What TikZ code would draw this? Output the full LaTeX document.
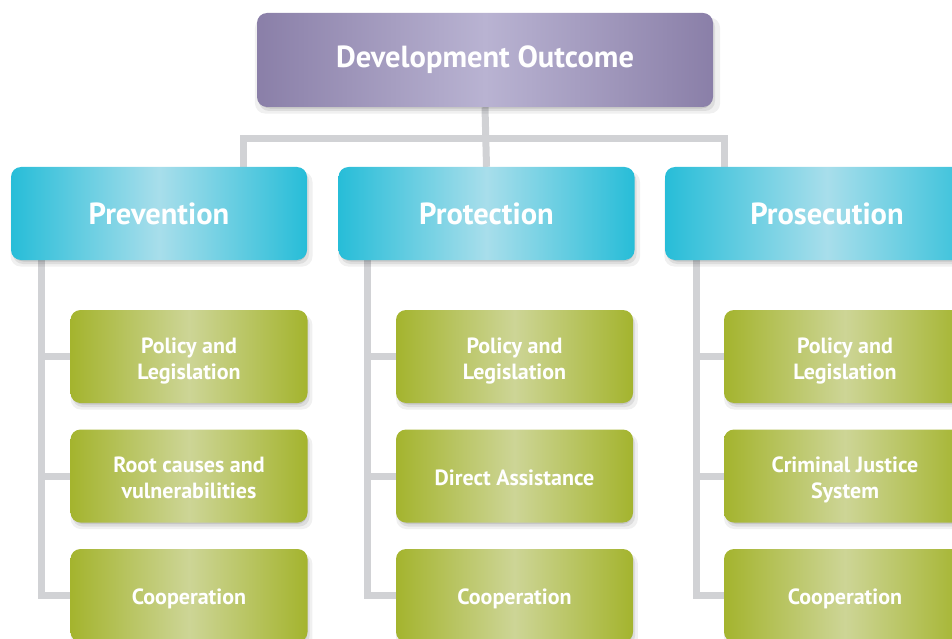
\documentclass[tikz,border=0pt]{standalone}
\usepackage{fontspec}
\setmainfont{PT Sans}
\usetikzlibrary{shadows,backgrounds}
\definecolor{purEdge}{HTML}{8A7FA8}
\definecolor{purMid}{HTML}{B9B3D2}
\definecolor{bluEdge}{HTML}{27BDD8}
\definecolor{bluMid}{HTML}{A8DEEB}
\definecolor{grnEdge}{HTML}{A4B42E}
\definecolor{grnMid}{HTML}{CDD596}
\definecolor{connGray}{HTML}{D1D2D5}
\tikzset{
  box/.style={rounded corners=10pt, inner sep=0pt, text=white, align=center,
    font=\bfseries,
    drop shadow={shadow xshift=2.5pt, shadow yshift=-5.5pt, shadow scale=1.02, opacity=0.06, fill=black},
    drop shadow={shadow xshift=2pt, shadow yshift=-4pt, shadow scale=1.0, opacity=0.08, fill=black},
    drop shadow={shadow xshift=1pt, shadow yshift=-2pt, shadow scale=0.99, opacity=0.10, fill=black}},
  topbox/.style={box, minimum width=456pt, minimum height=94pt,
    left color=purEdge, right color=purEdge, middle color=purMid, font=\bfseries\fontsize{30.5}{34}\selectfont},
  pillar/.style={box, minimum width=296pt, minimum height=93pt,
    left color=bluEdge, right color=bluEdge, middle color=bluMid, font=\bfseries\fontsize{30.5}{34}\selectfont},
  leaf/.style={box, minimum width=237pt, minimum height=93pt,
    left color=grnEdge, right color=grnEdge, middle color=grnMid, font=\bfseries\fontsize{22}{26}\selectfont,
    text height=20pt, text depth=1.6pt},
  leaftwo/.style={leaf, text height=45pt, text depth=0pt},
  conn/.style={draw=connGray, line width=7pt, line join=miter}
}
\begin{document}
\begin{tikzpicture}[x=1pt,y=-1pt]
\useasboundingbox (0,0) rectangle (952,639);
\clip (0,0) rectangle (952,639);
% top
\node[topbox] (top) at (485,60) {Development Outcome};
% pillars
\node[pillar] (prev) at (159,213.5) {Prevention};
\node[pillar] (prot) at (486.5,213.5) {Protection};
\node[pillar, minimum width=324pt] (pros) at (827,213.5) {Prosecution};
% leaves
\node[leaftwo] (a1) at (189,356.5) {Policy and\\Legislation};
\node[leaftwo] (a2) at (189,476) {Root causes and\\vulnerabilities};
\node[leaf] (a3) at (189,595.5) {Cooperation};
\node[leaftwo] (b1) at (514.5,356.5) {Policy and\\Legislation};
\node[leaf] (b2) at (514.5,476) {Direct Assistance};
\node[leaf] (b3) at (514.5,595.5) {Cooperation};
\node[leaftwo, minimum width=242pt] (c1) at (845,356.5) {Policy and\\Legislation};
\node[leaftwo, minimum width=242pt] (c2) at (845,476) {Criminal Justice\\System};
\node[leaf, minimum width=242pt] (c3) at (845,595.5) {Cooperation};
% connectors
\coordinate (barL) at (243,139);
\coordinate (barR) at (724,139);
\coordinate (t1) at (41,0);
\coordinate (t2) at (367,0);
\coordinate (t3) at (696,0);
\begin{pgfonlayer}{background}
\draw[conn] (top.south) -- (prot.north);
\draw[conn] (barL |- prev.north) -- (barL) -- (barR) -- (barR |- pros.north);
\draw[conn] (t1 |- prev.south) -- (t1 |- a3.west) -- (a3.west);
\draw[conn] (t1 |- a1.west) -- (a1.west);
\draw[conn] (t1 |- a2.west) -- (a2.west);
\draw[conn] (t2 |- prot.south) -- (t2 |- b3.west) -- (b3.west);
\draw[conn] (t2 |- b1.west) -- (b1.west);
\draw[conn] (t2 |- b2.west) -- (b2.west);
\draw[conn] (t3 |- pros.south) -- (t3 |- c3.west) -- (c3.west);
\draw[conn] (t3 |- c1.west) -- (c1.west);
\draw[conn] (t3 |- c2.west) -- (c2.west);
\end{pgfonlayer}
\end{tikzpicture}
\end{document}
